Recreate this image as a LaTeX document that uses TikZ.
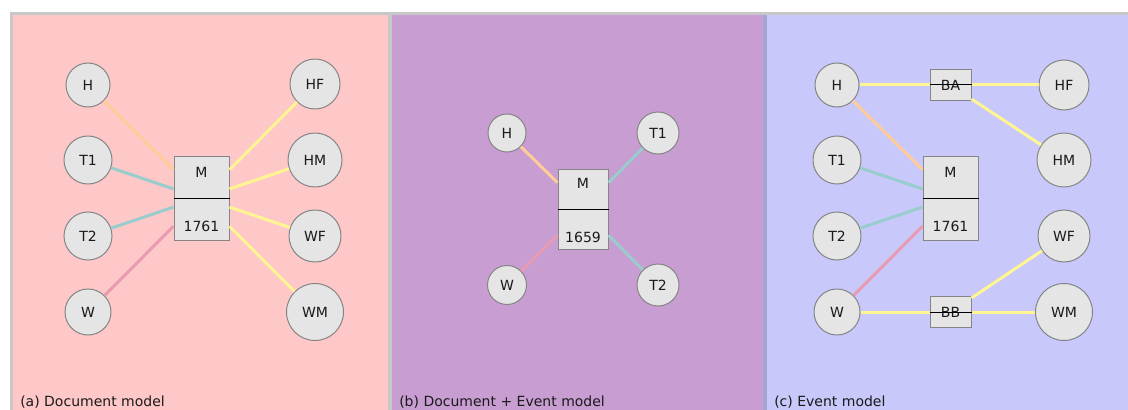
\documentclass[tikz,border=0pt]{standalone}
\usepackage{fontspec}
\setmainfont{DejaVu Sans}
\usetikzlibrary{calc}
\definecolor{bgA}{HTML}{FFC8C8}
\definecolor{bgB}{HTML}{C89DD2}
\definecolor{bgC}{HTML}{C8C8FA}
\definecolor{frameG}{HTML}{C8C8C8}
\definecolor{frameC}{HTML}{A5A5D2}
\definecolor{nodefill}{HTML}{E5E5E5}
\definecolor{nodeborder}{HTML}{858585}
\definecolor{txtc}{HTML}{1A1A1A}
\definecolor{cO}{HTML}{FFCC99}
\definecolor{cT}{HTML}{99CCCC}
\definecolor{cP}{HTML}{E89BB0}
\definecolor{cY}{HTML}{FFF593}
\tikzset{
  circ/.style={circle, draw=nodeborder, fill=nodefill, line width=0.75pt, inner sep=0pt,
    minimum size={1.5pt*#1}, font=\fontsize{10.5}{12}\selectfont, text=txtc},
  boxn/.style={rectangle, draw=nodeborder, fill=nodefill, line width=0.75pt, inner sep=0pt,
    font=\fontsize{10.5}{12}\selectfont, text=txtc},
  bw/.style={minimum width={0.75pt*#1}},
  bh/.style={minimum height={0.75pt*#1}},
  txt/.style={inner sep=0pt, font=\fontsize{10.5}{12}\selectfont, text=txtc},
  lbl/.style={inner sep=0pt, font=\fontsize{10.5}{12}\selectfont, text=txtc, anchor=base west},
  ln/.style={line width=2.25pt},
  divl/.style={line width=0.75pt, draw=black}
}
\begin{document}
\begin{tikzpicture}[x=0.75pt,y=-0.75pt]
\useasboundingbox (0,0) rectangle (1128,410);
\fill[white] (0,0) rectangle (1128,410);
\fill[frameG] (10,12) rectangle (1128,410);
\fill[bgA] (13,15) rectangle (388,410);
\fill[bgB] (392,15) rectangle (763,410);
\fill[frameC] (763,15) rectangle (767,410);
\fill[bgC] (767,15) rectangle (1128,410);

% ---------- panel (a)
\node[circ=22] (aH) at (88,85) {H};
\node[circ=24] (aT1) at (88,160) {T1};
\node[circ=24] (aT2) at (88,236) {T2};
\node[circ=23] (aW) at (88,312) {W};
\node[circ=25] (aHF) at (315,84) {HF};
\node[circ=27] (aHM) at (315,160) {HM};
\node[circ=26] (aWF) at (315,236) {WF};
\node[circ=28.5] (aWM) at (315,312) {WM};
\node[boxn, bw=55, bh=84] (aM) at (201.5,198) {};
\draw[divl] (aM.west) -- (aM.east);
\node[txt] (aMt) at (201.5,172) {M};
\node[txt] (aMy) at (201.5,226) {1761};
\draw[ln, cO] (aH) -- ($(aM.north west)!0.167!(aM.south west)$);
\draw[ln, cT] (aT1) -- ($(aM.north west)!0.393!(aM.south west)$);
\draw[ln, cT] (aT2) -- ($(aM.north west)!0.607!(aM.south west)$);
\draw[ln, cP] (aW) -- ($(aM.north west)!0.833!(aM.south west)$);
\draw[ln, cY] (aHF) -- ($(aM.north east)!0.167!(aM.south east)$);
\draw[ln, cY] (aHM) -- ($(aM.north east)!0.393!(aM.south east)$);
\draw[ln, cY] (aWF) -- ($(aM.north east)!0.607!(aM.south east)$);
\draw[ln, cY] (aWM) -- ($(aM.north east)!0.833!(aM.south east)$);
\node[lbl] (la) at (20,406.5) {(a) Document model};

% ---------- panel (b)
\node[circ=19] (bH) at (507,133) {H};
\node[circ=21] (bT1) at (658,133) {T1};
\node[circ=19.5] (bW) at (507,285) {W};
\node[circ=21] (bT2) at (658,285) {T2};
\node[boxn, bw=50, bh=80] (bM) at (583,209) {};
\draw[divl] (bM.west) -- (bM.east);
\node[txt] (bMt) at (583,183) {M};
\node[txt] (bMy) at (583,237) {1659};
\draw[ln, cO] (bH) -- ($(bM.north west)!0.175!(bM.south west)$);
\draw[ln, cT] (bT1) -- ($(bM.north east)!0.175!(bM.south east)$);
\draw[ln, cP] (bW) -- ($(bM.north west)!0.825!(bM.south west)$);
\draw[ln, cT] (bT2) -- ($(bM.north east)!0.825!(bM.south east)$);
\node[lbl] (lb) at (399,406.5) {(b) Document + Event model};

% ---------- panel (c)
\node[circ=22] (cH) at (837,85) {H};
\node[circ=24] (cT1) at (837,160) {T1};
\node[circ=24] (cT2) at (837,236) {T2};
\node[circ=23] (cW) at (837,312) {W};
\node[circ=25] (cHF) at (1064,85) {HF};
\node[circ=27] (cHM) at (1064,160) {HM};
\node[circ=26] (cWF) at (1064,236) {WF};
\node[circ=28.5] (cWM) at (1064,312) {WM};
\node[boxn, bw=55, bh=84] (cM) at (950.5,198) {};
\draw[divl] (cM.west) -- (cM.east);
\node[txt] (cMt) at (950.5,172) {M};
\node[txt] (cMy) at (950.5,226) {1761};
\node[boxn, bw=41, bh=31] (cBA) at (950.5,85) {BA};
\draw[divl] (cBA.west) -- (cBA.east);
\node[boxn, bw=41, bh=31] (cBB) at (950.5,312) {BB};
\draw[divl] (cBB.west) -- (cBB.east);
\draw[ln, cY] (cH) -- (cBA);
\draw[ln, cY] (cBA) -- (cHF);
\draw[ln, cY] ($(cBA.south east)+(0,-2)$) -- (cHM);
\draw[ln, cY] (cW) -- (cBB);
\draw[ln, cY] (cBB) -- (cWM);
\draw[ln, cY] ($(cBB.north east)+(0,2)$) -- (cWF);
\draw[ln, cO] (cH) -- ($(cM.north west)!0.167!(cM.south west)$);
\draw[ln, cT] (cT1) -- ($(cM.north west)!0.393!(cM.south west)$);
\draw[ln, cT] (cT2) -- ($(cM.north west)!0.607!(cM.south west)$);
\draw[ln, cP] (cW) -- ($(cM.north west)!0.833!(cM.south west)$);
\node[lbl] (lc) at (774,406.5) {(c) Event model};
\end{tikzpicture}
\end{document}
